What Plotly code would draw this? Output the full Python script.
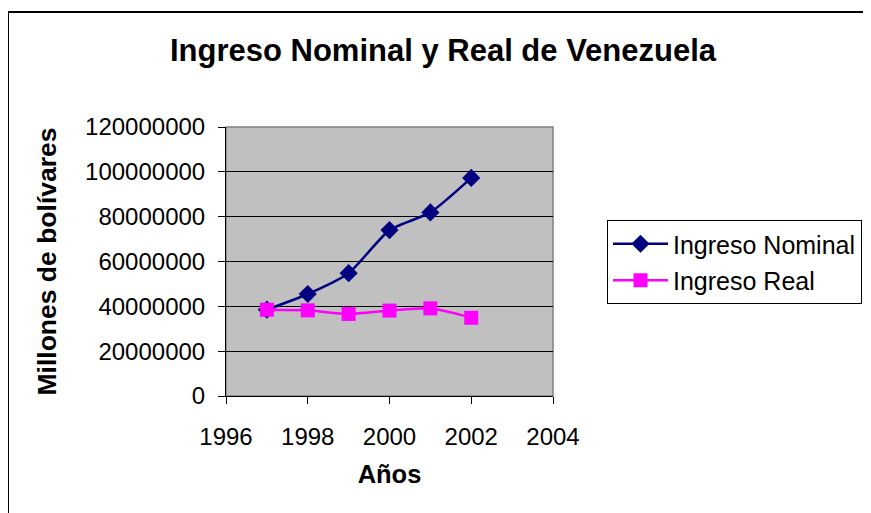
import plotly.graph_objects as go

years = [1997, 1998, 1999, 2000, 2001, 2002]
ingreso_nominal = [38500000, 45500000, 54800000, 74000000, 81900000, 97300000]
ingreso_real = [38500000, 38200000, 36600000, 38100000, 39100000, 34900000]
x_ticks = [1996, 1998, 2000, 2002, 2004]
y_ticks = [0, 20000000, 40000000, 60000000, 80000000, 100000000, 120000000]

# The page adds an 8px body margin; work in window coordinates and convert.
OFF = 8
W, H = 871 - OFF, 513 - OFF
L, R, T, B = 226 - OFF, 553 - OFF, 127 - OFF, 396 - OFF
pw, ph = R - L, B - T

def px(xw):
    return (xw - OFF - L) / pw

def py(yw):
    return (B - (yw - OFF)) / ph

FONT = "Liberation Sans, Arial, sans-serif"

fig = go.Figure()
fig.add_trace(go.Scatter(
    x=years, y=ingreso_nominal, name="Ingreso Nominal", mode="lines+markers",
    legendgroup="a",
    line=dict(color="#000080", width=2.5, shape="spline", smoothing=0.6),
    marker=dict(symbol="diamond", size=14, color="#000080"),
))
fig.add_trace(go.Scatter(
    x=years, y=ingreso_real, name="Ingreso Real", mode="lines+markers",
    legendgroup="b",
    line=dict(color="#FF00FF", width=2.5, shape="spline", smoothing=0.6),
    marker=dict(symbol="square", size=14, color="#FF00FF"),
))

fig.update_layout(
    width=W, height=H,
    margin=dict(l=L, r=W - R, t=T, b=H - B, pad=0, autoexpand=False),
    paper_bgcolor="white", plot_bgcolor="#C0C0C0",
    font=dict(family=FONT, color="black", size=24),
    title=dict(text="<b>Ingreso Nominal y Real de Venezuela</b>",
               x=(443 - OFF) / W, xanchor="center", y=1 - (50 - OFF) / H, yanchor="middle",
               font=dict(size=31, family=FONT)),
    showlegend=True,
    legend=dict(x=px(607), y=py(220), xanchor="left", yanchor="top",
                bgcolor="white", bordercolor="black", borderwidth=1,
                font=dict(size=25, family=FONT), tracegroupgap=1,
                itemwidth=55),
    xaxis=dict(range=[1996, 2004], tickvals=x_ticks, ticktext=[str(v) for v in x_ticks],
               showgrid=False, zeroline=False, showline=True, linecolor="black", linewidth=1,
               ticks="outside", ticklen=7, tickcolor="black", ticklabelstandoff=12,
               tickfont=dict(size=24),
               title=dict(text="<b>Años</b>", font=dict(size=25.5, family=FONT), standoff=16)),
    yaxis=dict(range=[0, 120000000], tickvals=y_ticks, ticktext=[str(v) for v in y_ticks],
               showgrid=True, gridcolor="black", gridwidth=1, zeroline=False,
               showline=True, linecolor="black", linewidth=1,
               ticks="outside", ticklen=7, tickcolor="black", ticklabelstandoff=8,
               tickfont=dict(size=24),
               title=dict(text="<b>Millones de bolívares</b>", font=dict(size=26.5, family=FONT), standoff=20)),
    shapes=[
        dict(type="rect", xref="paper", yref="paper", x0=0, x1=1, y0=0, y1=1,
             line=dict(color="#808080", width=1.5), layer="below"),
        dict(type="rect", xref="paper", yref="paper", x0=px(OFF), x1=px(890), y0=py(530), y1=py(12),
             line=dict(color="black", width=2), layer="below"),
    ],
)

fig.write_html("out.html")
